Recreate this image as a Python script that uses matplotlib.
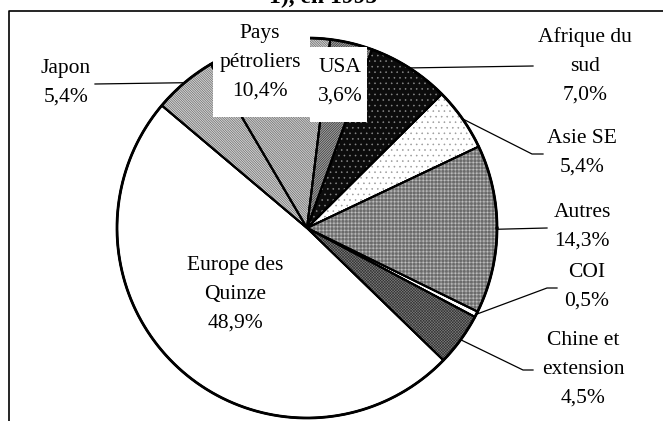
import numpy as np
import matplotlib
matplotlib.use("Agg")
import matplotlib.pyplot as plt
from matplotlib.patches import Wedge, Rectangle

# data (clockwise from the top)
categories = ['Afrique du\nsud', 'Asie SE', 'Autres', 'COI', 'Chine et\nextension',
              'Europe des\nQuinze', 'Japon', 'Pays\npétroliers', 'USA']
shares = [7.0, 5.4, 14.3, 0.5, 4.5, 48.9, 5.4, 10.4, 3.6]

# look of each slice: face colour, hatch, hatch colour
faces = ['#0c0c0c', 'white', '#f0f0f0', 'white', '#7c7c7c',
         'white', '#d2d2d2', '#cdcdcd', '#a0a0a0']
hatches = ['.' * 3, '.' * 3, '+' * 12, None, 'x' * 12,
           None, '\\' * 14, '\\' * 14, '/' * 14]
hatch_cols = ['#8a8a8a', '#9a9a9a', '#6a6a6a', None, '#333333',
              None, '#5a5a5a', '#5a5a5a', '#222222']

# label placement (pixels from top-left) and leader elbows
label_pos = [(585, 66), (582, 153), (582, 227), (587, 287), (583, 369),
             (235, 294), (66, 83), (260, 62), (340, 82)]
leaders = [[(533, 66)], [(532, 154), (543, 154)], [(547, 228)],
           [(547, 288), (557, 288)], [(523, 370), (533, 370)],
           None, [(95, 84)], None, None]

W, H = 663, 421
plt.rcParams['font.family'] = ['Liberation Serif', 'DejaVu Serif']
plt.rcParams['hatch.linewidth'] = 0.4

fig = plt.figure(figsize=(W / 100, H / 100), dpi=100)
ax = fig.add_axes([0, 0, 1, 1])
ax.set_xlim(0, W)
ax.set_ylim(0, H)
ax.set_aspect('equal')
ax.axis('off')

cx, cy, r = 307, H - 228, 190

wedges, _ = ax.pie(shares, center=(cx, cy), radius=r, startangle=70,
                   counterclock=False, colors=faces,
                   wedgeprops=dict(edgecolor='black', linewidth=1.4))
ax.set_xlim(0, W)
ax.set_ylim(0, H)

for w, h, hc in zip(wedges, hatches, hatch_cols):
    w.set_zorder(1)
    if h:
        ax.add_patch(Wedge(w.center, w.r, w.theta1, w.theta2, fill=False,
                           hatch=h, edgecolor=hc, linewidth=0, zorder=1.5))
    ax.add_patch(Wedge(w.center, w.r, w.theta1, w.theta2, fill=False,
                       edgecolor='black', linewidth=1.4, zorder=2))

# thicker outer rim
t = np.linspace(0, 2 * np.pi, 400)
ax.plot(cx + r * np.cos(t), cy + r * np.sin(t), color='black', lw=2.0, zorder=3)

# white boxes behind the two labels sitting on the pie
ax.add_patch(Rectangle((213, H - 117), 97, 97, facecolor='white',
                       edgecolor='none', zorder=4))
ax.add_patch(Rectangle((310, H - 122), 57, 75, facecolor='white',
                       edgecolor='none', zorder=4))

for w, name, val, (lx, ly), ld in zip(wedges, categories, shares, label_pos, leaders):
    txt = name + '\n' + ('%.1f%%' % val).replace('.', ',')
    ax.text(lx, H - ly, txt, ha='center', va='center', fontsize=15.5,
            linespacing=1.7, zorder=6)
    if ld:
        mid = np.deg2rad((w.theta1 + w.theta2) / 2)
        xs = [cx + r * np.cos(mid)] + [p[0] for p in ld]
        ys = [cy + r * np.sin(mid)] + [H - p[1] for p in ld]
        ax.plot(xs, ys, color='black', lw=0.9, zorder=5)

# frame of the original chart area
ax.plot([9, 9, W], [0, H - 11, H - 11], color='black', lw=1.2, zorder=7,
        clip_on=False)

# title, mostly cut off by the top edge as in the source
ax.text(323, H - 3, '1), en 1995', ha='center', va='baseline',
        fontsize=17, fontweight='bold', zorder=7, clip_on=False)

fig.savefig('out.png', dpi=100)
